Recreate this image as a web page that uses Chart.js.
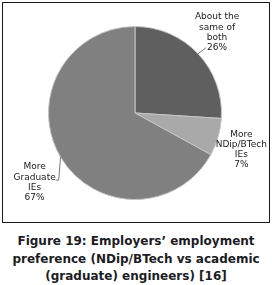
<!DOCTYPE html>
<html>
<head>
<meta charset="utf-8">
<script src="https://cdn.jsdelivr.net/npm/chart.js@4.4.1/dist/chart.umd.min.js"></script>
<style>
  html,body{margin:0;padding:0;background:#fff;width:272px;height:285px;overflow:hidden;}
  #box{position:absolute;left:2px;top:2px;width:266px;height:219px;border:1px solid #1a1a1a;}
  #box canvas{display:block;}
  #cap{position:absolute;left:0;top:233px;width:272px;text-align:center;
       font-family:"DejaVu Sans",sans-serif;font-weight:bold;font-size:12px;line-height:17.5px;color:#1c1c24;}
</style>
</head>
<body>
<div id="box"><canvas id="c" width="266" height="219"></canvas></div>
<div id="cap">Figure 19: Employers’ employment<br>preference (NDip/BTech vs academic<br>(graduate) engineers) [16]</div>
<script>
const categories = [["About the","same of","both"],["More","NDip/BTech","IEs"],["More","Graduate","IEs"]];
const percentLabels = ["26%","7%","67%"];
const values = [26, 7, 67];
const sliceColors = ["#5f5f5f", "#a9a9a9", "#808080"];

const labelPlugin = {
  id: 'pieLabels',
  afterDatasetsDraw(chart, args, opts) {
    const ctx = chart.ctx;
    const meta = chart.getDatasetMeta(0);
    ctx.save();
    ctx.font = opts.font;
    ctx.fillStyle = opts.color;
    ctx.textAlign = 'center';
    ctx.textBaseline = 'middle';
    meta.data.forEach((arc, i) => {
      const p = arc.getProps(['x','y','startAngle','endAngle','outerRadius'], true);
      const mid = (p.startAngle + p.endAngle) / 2;
      const s = opts.shifts[i];
      const a = mid + s.da * Math.PI / 180;
      const cx = p.x + Math.cos(a) * p.outerRadius * s.k;
      const cy = p.y + Math.sin(a) * p.outerRadius * s.k;
      const lines = categories[i].concat([percentLabels[i]]);
      const lh = opts.lineHeight;
      const top = cy - (lines.length - 1) * lh / 2;
      lines.forEach((t, j) => ctx.fillText(t, cx, top + j * lh));
      const ex = p.x + Math.cos(mid) * p.outerRadius;
      const ey = p.y + Math.sin(mid) * p.outerRadius;
      ctx.strokeStyle = opts.leaderColor;
      ctx.lineWidth = 1;
      if (s.leader === 'lastLeft') {
        const w = ctx.measureText(lines[lines.length-1]).width;
        const ly = top + (lines.length-1) * lh;
        ctx.beginPath();
        ctx.moveTo(ex, ey);
        ctx.lineTo(cx - w/2 - 1, ly);
        ctx.stroke();
      } else if (s.leader === 'line2Right') {
        const w = ctx.measureText(lines[1]).width;
        const ly = top + lh + 3;
        const rx = cx + w/2;
        ctx.beginPath();
        ctx.moveTo(ex, ey);
        ctx.lineTo(rx + 3, ly);
        ctx.lineTo(rx, ly);
        ctx.stroke();
      }
    });
    ctx.restore();
  }
};

new Chart(document.getElementById('c'), {
  type: 'pie',
  data: {
    labels: categories.map(c => c.join(' ')),
    datasets: [{
      data: values,
      backgroundColor: sliceColors,
      borderColor: '#c4c4c4',
      borderWidth: 1
    }]
  },
  options: {
    responsive: false,
    animation: false,
    layout: { padding: { left: 45, right: 47, top: 23, bottom: 22 } },
    plugins: {
      legend: { display: false },
      tooltip: { enabled: false },
      pieLabels: {
        font: '9px "DejaVu Sans", sans-serif',
        color: '#1a1a1a',
        lineHeight: 10.2,
        leaderColor: '#7a7a7a',
        shifts: [
          { k: 1.33, da: -1.3, leader: 'lastLeft' },
          { k: 1.30, da: 2.8, leader: 'none' },
          { k: 1.41, da: -4.0, leader: 'line2Right' }
        ]
      }
    }
  },
  plugins: [labelPlugin]
});
</script>
</body>
</html>
